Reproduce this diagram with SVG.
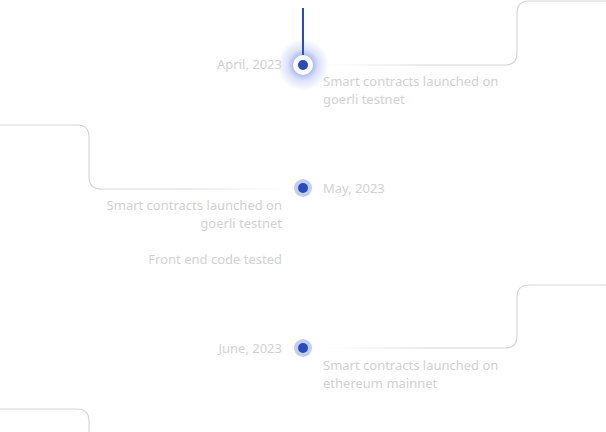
<svg xmlns="http://www.w3.org/2000/svg" width="606" height="432" viewBox="0 0 606 432">
  <defs>
    <linearGradient id="fadeRight" gradientUnits="userSpaceOnUse" x1="325" y1="0" x2="430" y2="0">
      <stop offset="0" stop-color="#d6d6d6" stop-opacity="0"/>
      <stop offset="1" stop-color="#d6d6d6" stop-opacity="1"/>
    </linearGradient>
    <linearGradient id="fadeLeft" gradientUnits="userSpaceOnUse" x1="285" y1="0" x2="180" y2="0">
      <stop offset="0" stop-color="#d6d6d6" stop-opacity="0"/>
      <stop offset="1" stop-color="#d6d6d6" stop-opacity="1"/>
    </linearGradient>
    <radialGradient id="glow">
      <stop offset="0.3" stop-color="#3d5fe0" stop-opacity="0.5"/>
      <stop offset="0.6" stop-color="#3d5fe0" stop-opacity="0.18"/>
      <stop offset="1" stop-color="#3d5fe0" stop-opacity="0"/>
    </radialGradient>
  </defs>
  <style>
    .txt { font-family: "Noto Sans", "Liberation Sans", sans-serif; font-size: 13px; fill: #d2d2d2; }
    .end { text-anchor: end; }
    .conn { fill: none; stroke-width: 1.2; }
    .halo { fill: #c3cdf0; }
    .dot { fill: #2a4bb9; }
  </style>

  <!-- connectors -->
  <g id="connectors">
    <line x1="303" y1="8" x2="303" y2="56" stroke="#2a4bb9" stroke-width="2"/>
    <path class="conn" stroke="url(#fadeRight)" d="M325 65 H505 Q517 65 517 53 V13 Q517 1 529 1 H606"/>
    <path class="conn" stroke="url(#fadeLeft)" d="M285 189 H101 Q89 189 89 177 V137 Q89 125 77 125 H0"/>
    <path class="conn" stroke="url(#fadeRight)" d="M325 348 H505 Q517 348 517 336 V297 Q517 285 529 285 H606"/>
    <path class="conn" stroke="#d6d6d6" d="M0 409 H77 Q89 409 89 421 V432"/>
  </g>

  <!-- April 2023 (active) -->
  <g id="node-april">
    <circle cx="303" cy="65" r="26" fill="url(#glow)"/>
    <circle cx="303" cy="65" r="10" fill="#ffffff"/>
    <circle class="dot" cx="303" cy="65" r="5"/>
    <text class="txt end" x="282" y="69">April, 2023</text>
    <text class="txt" x="323" y="86">Smart contracts launched on</text>
    <text class="txt" x="323" y="104">goerli testnet</text>
  </g>

  <!-- May 2023 -->
  <g id="node-may">
    <circle class="halo" cx="303" cy="188" r="9"/>
    <circle class="dot" cx="303" cy="188" r="5"/>
    <text class="txt" x="323" y="193">May, 2023</text>
    <text class="txt end" x="282" y="210">Smart contracts launched on</text>
    <text class="txt end" x="282" y="228">goerli testnet</text>
    <text class="txt end" x="282" y="264">Front end code tested</text>
  </g>

  <!-- June 2023 -->
  <g id="node-june">
    <circle class="halo" cx="303" cy="348" r="9"/>
    <circle class="dot" cx="303" cy="348" r="5"/>
    <text class="txt end" x="282" y="353">June, 2023</text>
    <text class="txt" x="323" y="370">Smart contracts launched on</text>
    <text class="txt" x="323" y="388">ethereum mainnet</text>
  </g>
</svg>
